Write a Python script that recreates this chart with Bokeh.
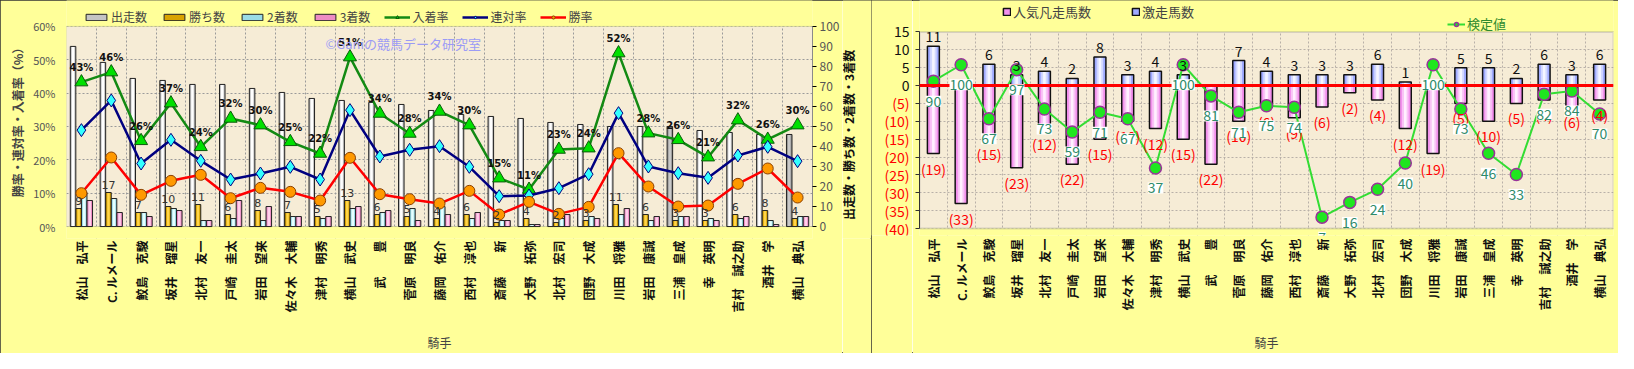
import math
from bokeh.plotting import figure
from bokeh.models import (ColumnDataSource, Range1d, FactorRange, LinearAxis, FixedTicker,
                          SingleIntervalTicker, Legend, LegendItem, LabelSet, Label, Span, BoxAnnotation)
from bokeh.transform import dodge
from bokeh.layouts import row
from bokeh.embed import file_html
from bokeh.resources import INLINE
from bokeh.core.properties import value

# ---------------- data ----------------
jockeys = ["松山　弘平", "C. ルメール", "鮫島　克駿", "坂井　瑠星", "北村　友一", "戸崎　圭太",
           "岩田　望来", "佐々木　大輔", "津村　明秀", "横山　武史", "武　　豊", "菅原　明良",
           "藤岡　佑介", "西村　淳也", "斎藤　　新", "大野　拓弥", "北村　宏司", "団野　大成",
           "川田　将雅", "岩田　康誠", "三浦　皇成", "幸　英明", "吉村　誠之助", "酒井　学", "横山　典弘"]
starts = [90, 82, 74, 73, 71, 71, 69, 67, 64, 63, 62, 61, 58, 56, 55, 54, 52, 51, 50, 50, 50, 48, 47, 46, 46]
wins = [9, 17, 7, 10, 11, 6, 8, 7, 5, 13, 6, 5, 4, 6, 2, 4, 2, 3, 11, 6, 3, 3, 6, 8, 4]
seconds = [17, 14, 7, 9, 3, 4, 3, 5, 4, 9, 7, 9, 10, 4, 3, 1, 4, 5, 6, 3, 5, 4, 4, 3, 5]
thirds = [13, 7, 5, 8, 3, 13, 10, 5, 5, 10, 8, 3, 6, 7, 3, 1, 6, 4, 9, 5, 5, 3, 5, 1, 5]
win_rate = [10.0, 20.7, 9.5, 13.7, 15.5, 8.5, 11.6, 10.4, 7.8, 20.6, 9.7, 8.2, 6.9, 10.7, 3.6,
            7.4, 3.8, 5.9, 22.0, 12.0, 6.0, 6.3, 12.8, 17.4, 8.7]
ren_rate = [28.9, 37.8, 18.9, 26.0, 19.7, 14.1, 15.9, 17.9, 14.1, 34.9, 21.0, 23.0, 24.1, 17.9,
            9.1, 9.3, 11.5, 15.7, 34.0, 18.0, 16.0, 14.6, 21.3, 23.9, 19.6]
place_rate = [43.3, 46.3, 25.7, 37.0, 23.9, 32.4, 30.4, 25.4, 21.9, 50.8, 33.9, 27.9, 34.5, 30.4,
              14.5, 11.1, 23.1, 23.5, 52.0, 28.0, 26.0, 20.8, 31.9, 26.1, 30.4]
place_labels = ["43%", "46%", "26%", "37%", "24%", "32%", "30%", "25%", "22%", "51%", "34%", "28%",
                "34%", "30%", "15%", "11%", "23%", "24%", "52%", "28%", "26%", "21%", "32%", "26%", "30%"]

gekisou = [11, 0, 6, 3, 4, 2, 8, 3, 4, 3, 0, 7, 4, 3, 3, 3, 6, 1, 0, 5, 5, 2, 6, 3, 6]
bonsou = [19, 33, 15, 23, 12, 22, 15, 10, 12, 15, 22, 10, 6, 9, 6, 2, 4, 12, 19, 5, 10, 5, 4, 6, 4]
kentei = [90, 100, 67, 97, 73, 59, 71, 67, 37, 100, 81, 71, 75, 74, 7, 16, 24, 40, 100, 73, 46, 33, 82, 84, 70]

right_ticks = [15, 10, 5, 0, -5, -10, -15, -20, -25, -30, -35, -40]

# ---------------- style / layout ----------------
FONT = "Noto Sans CJK JP"
PANEL = "#FFFF99"
PLOT_BG = "#F6ECD6"
highlight = {"三浦　皇成", "横山　典弘"}
H = 353
BOT = 114                      # common bottom border of every plot in the row
FH = H - BOT                   # frame height (frame reaches canvas top)

# left chart: plot area from 26px to 227px below the top
L_TOP, L_BOT = 26, 227
u1 = 60 / (L_BOT - L_TOP)
y1_lo, y1_hi = -(FH - L_BOT) * u1, 60 + L_TOP * u1
uc = 100 / (L_BOT - L_TOP)
c_lo, c_hi = -(FH - L_BOT) * uc, 100 + L_TOP * uc

# right chart: plot area from 32px to 232px below the top
R_TOP, R_BOT = 32, 232
u2 = 55 / (R_BOT - R_TOP)
y2_lo, y2_hi = -40 - (FH - R_BOT) * u2, 15 + R_TOP * u2
k_lo, k_hi = (y2_lo + 40) * 120 / 55, (y2_hi + 40) * 120 / 55

# ================= left chart =================
src = ColumnDataSource(dict(
    jockey=jockeys, starts=starts, wins=wins, seconds=seconds, thirds=thirds,
    win_rate=win_rate, ren_rate=ren_rate, place_rate=place_rate, place_lbl=place_labels,
    wins_lbl=[str(w) for w in wins],
    st_outer=["#9A9A9A" if j in highlight else "#C4C4C4" for j in jockeys],
    st_inner=["#C8C8C8" if j in highlight else "#FFFFFF" for j in jockeys],
))

p1 = figure(width=842, height=H, x_range=FactorRange(*jockeys), y_range=Range1d(y1_lo, y1_hi),
            output_backend="svg", toolbar_location=None,
            min_border_left=66, min_border_right=30, min_border_top=0, min_border_bottom=BOT)
p1.extra_y_ranges = {"cnt": Range1d(c_lo, c_hi)}
p1.background_fill_color = PANEL
p1.border_fill_color = PANEL
p1.outline_line_color = None

p1.add_layout(BoxAnnotation(bottom=0, top=60, fill_color=PLOT_BG, fill_alpha=1, line_color=None, level="image"))

bw = 0.185
offs = [-0.28, -0.093, 0.093, 0.28]
bar_specs = [("starts", "st_outer", "st_inner"), ("wins", "#D9A300", "#FFD54A"),
             ("seconds", "#9ADCE6", "#E6FFFF"), ("thirds", "#EE8CC4", "#FFD0EA")]
bar_items = []
names = ["出走数", "勝ち数", "2着数", "3着数"]
for (col, outer, inner), off, nm in zip(bar_specs, offs, names):
    xx = dodge("jockey", off, range=p1.x_range)
    r_o = p1.vbar(x=xx, top=col, width=bw, bottom=0, source=src, y_range_name="cnt",
                  fill_color=outer, line_color=None)
    p1.vbar(x=xx, top=col, width=bw * 0.45, bottom=0, source=src, y_range_name="cnt",
            fill_color=inner, line_color=None)
    r_l = p1.vbar(x=xx, top=col, width=bw, bottom=0, source=src, y_range_name="cnt",
                  fill_color=None, line_color="#222222", line_width=1)
    bar_items.append(LegendItem(label=nm, renderers=[r_o, r_l]))

l_pl = p1.line("jockey", "place_rate", source=src, line_color="#138A13", line_width=2.5)
m_pl = p1.scatter("jockey", "place_rate", source=src, marker="triangle", size=13,
                  fill_color="#00E000", line_color="#0B5A0B", line_width=1)
l_rr = p1.line("jockey", "ren_rate", source=src, line_color="#000080", line_width=2.5)
m_rr = p1.scatter("jockey", "ren_rate", source=src, marker="diamond", size=13,
                  fill_color="#33FFFF", line_color="#000080", line_width=1)
l_wr = p1.line("jockey", "win_rate", source=src, line_color="#FF0000", line_width=2.5)
m_wr = p1.scatter("jockey", "win_rate", source=src, marker="circle", size=11,
                  fill_color="#FF9900", line_color="#8B4000", line_width=1)

p1.add_layout(LabelSet(x="jockey", y="place_rate", text="place_lbl", source=src, y_offset=9,
                       text_align="center", text_baseline="bottom", text_font=value("DejaVu Sans"),
                       text_font_size="10px", text_font_style="bold", text_color="#111111"))
p1.add_layout(LabelSet(x=dodge("jockey", -0.093, range=p1.x_range), y="wins", y_range_name="cnt",
                       text="wins_lbl", source=src, y_offset=4, text_align="center",
                       text_baseline="bottom", text_font=value("DejaVu Sans"),
                       text_font_size="11px", text_color="#333333"))
p1.add_layout(Label(x=8.68, y=54.9, text="©Ganiの競馬データ研究室", text_font=FONT,
                    text_font_size="13px", text_color="#9B9BF5", text_baseline="middle"))

# hide the grid outside the plot area, then redraw the plot-area border
p1.add_layout(BoxAnnotation(bottom=60, fill_color=PANEL, fill_alpha=1, line_color=None, level="underlay"))
p1.add_layout(BoxAnnotation(top=0, fill_color=PANEL, fill_alpha=1, line_color=None, level="underlay"))
p1.add_layout(BoxAnnotation(bottom=0, top=60, fill_alpha=0, line_color="#8A8A8A", line_width=1, level="underlay"))

legend1 = Legend(items=bar_items + [
    LegendItem(label="入着率", renderers=[l_pl, m_pl]),
    LegendItem(label="連対率", renderers=[l_rr, m_rr]),
    LegendItem(label="勝率", renderers=[l_wr, m_wr])],
    orientation="horizontal", location=(17, FH - L_TOP), glyph_width=26, glyph_height=8,
    label_text_font=FONT, label_text_font_size="12px", label_standoff=2, spacing=14,
    padding=1, margin=0, background_fill_alpha=0, border_line_color=None, label_height=14)
p1.add_layout(legend1)

ax = p1.xaxis[0]
ax.major_label_orientation = 1.5708
ax.major_label_text_font = FONT
ax.major_label_text_font_size = "12px"
ax.major_label_text_font_style = "bold"
ax.major_label_text_color = "#111111"
ax.major_tick_line_color = None
ax.major_tick_out = 0
ax.major_tick_in = 0
ax.major_label_standoff = 2
ax.axis_line_color = None
ax.axis_label = "騎手"
ax.axis_label_text_font = FONT
ax.axis_label_text_font_style = "normal"
ax.axis_label_text_font_size = "12px"
ax.axis_label_text_color = "#444444"
ax.axis_label_standoff = 18

ay = p1.yaxis[0]
ay.ticker = SingleIntervalTicker(interval=10)
ay.bounds = (0, 60)
ay.major_label_overrides = {v: f"{v}%" for v in range(0, 70, 10)}
ay.major_label_text_font = FONT
ay.major_label_text_font_size = "11px"
ay.major_label_text_color = "#555555"
ay.axis_label = "勝率・連対率・入着率（%）"
ay.axis_label_text_font = FONT
ay.axis_label_text_font_size = "12px"
ay.axis_label_text_font_style = "bold"
ay.axis_label_standoff = 4
ay.minor_tick_line_color = None
ay.major_tick_line_color = None
ay.axis_line_color = None

ary = LinearAxis(y_range_name="cnt", ticker=SingleIntervalTicker(interval=10), bounds=(0, 100))
ary.major_label_text_font = FONT
ary.major_label_text_font_size = "12px"
ary.major_label_text_color = "#555555"
ary.major_label_standoff = 3
ary.minor_tick_line_color = None
ary.major_tick_in = 0
ary.major_tick_out = 4
ary.axis_line_color = "#8A8A8A"
p1.add_layout(ary, "right")

p1.xgrid.ticker = FixedTicker(ticks=list(range(0, 26)))
p1.xgrid.grid_line_color = "#9A9A9A"
p1.xgrid.grid_line_dash = "2 2"
p1.ygrid.ticker = SingleIntervalTicker(interval=10)
p1.ygrid.grid_line_color = "#9A9A9A"
p1.ygrid.grid_line_dash = "2 2"

# strip holding the right-hand axis title (reads bottom to top)
p1b = figure(width=29, height=H, x_range=Range1d(0, 1), y_range=Range1d(0, FH),
             output_backend="svg", toolbar_location=None, x_axis_location=None, y_axis_location=None,
             min_border_left=0, min_border_right=0, min_border_top=0, min_border_bottom=BOT)
p1b.grid.visible = False
p1b.background_fill_color = PANEL
p1b.border_fill_color = PANEL
p1b.outline_line_color = None
p1b.add_layout(Label(x=0.22, y=FH - 135, text="出走数・勝ち数・2着数・3着数", angle=math.pi / 2,
                     text_align="center", text_baseline="middle", text_font=FONT,
                     text_font_size="12px", text_font_style="bold", text_color="#111111"))

# ================= right chart =================
lbl_idx = [i for i, v in enumerate(gekisou) if v > 0]
src2 = ColumnDataSource(dict(
    jockey=jockeys, gek=gekisou, neg=[-v for v in bonsou], kentei=kentei,
    bon_lbl=[f"({v})" for v in bonsou],
    ken_lbl=[str(v) for v in kentei],
))
src2_lbl = ColumnDataSource(dict(
    jockey=[jockeys[i] for i in lbl_idx], gek=[gekisou[i] for i in lbl_idx],
    gek_lbl=[str(gekisou[i]) for i in lbl_idx],
))
yr2 = Range1d(y2_lo, y2_hi)
p2 = figure(width=706, height=H, x_range=FactorRange(*jockeys), y_range=yr2,
            output_backend="svg", toolbar_location=None,
            min_border_left=7, min_border_right=5, min_border_top=0, min_border_bottom=BOT)
p2.extra_y_ranges = {"kt": Range1d(k_lo, k_hi)}
p2.background_fill_color = PANEL
p2.border_fill_color = PANEL
p2.outline_line_color = None
p2.add_layout(BoxAnnotation(bottom=-40, top=15, fill_color=PLOT_BG, fill_alpha=1, line_color=None, level="image"))

w2 = 0.43
b_o = p2.vbar(x="jockey", top="gek", bottom=0, width=w2, source=src2, fill_color="#9FAAFF", line_color=None)
p2.vbar(x="jockey", top="gek", bottom=0, width=w2 * 0.55, source=src2, fill_color="#D2D8FF", line_color=None)
p2.vbar(x="jockey", top="gek", bottom=0, width=w2 * 0.22, source=src2, fill_color="#F4F5FF", line_color=None)
b_l = p2.vbar(x="jockey", top="gek", bottom=0, width=w2, source=src2, fill_color=None,
              line_color="#111111", line_width=1.5)
n_o = p2.vbar(x="jockey", top=0, bottom="neg", width=w2, source=src2, fill_color="#F290EC", line_color=None)
p2.vbar(x="jockey", top=0, bottom="neg", width=w2 * 0.55, source=src2, fill_color="#F9C4F6", line_color=None)
p2.vbar(x="jockey", top=0, bottom="neg", width=w2 * 0.22, source=src2, fill_color="#FFF0FE", line_color=None)
n_l = p2.vbar(x="jockey", top=0, bottom="neg", width=w2, source=src2, fill_color=None,
              line_color="#111111", line_width=1.5)

p2.add_layout(Span(location=0, dimension="width", line_color="#FF0000", line_width=3))

p2.add_layout(LabelSet(x="jockey", y="gek", text="gek_lbl", source=src2_lbl, y_offset=4,
                       text_align="center", text_baseline="bottom", text_font=value(FONT),
                       text_font_size="14px", text_color="#111111"))
p2.add_layout(LabelSet(x="jockey", y="neg", text="bon_lbl", source=src2, y_offset=-5,
                       text_align="center", text_baseline="top", text_font=value(FONT),
                       text_font_size="14px", text_color="#FF0000"))

k_l = p2.line("jockey", "kentei", source=src2, y_range_name="kt", line_color="#33DD33", line_width=2)
k_m = p2.scatter("jockey", "kentei", source=src2, y_range_name="kt", marker="circle", size=12,
                 fill_color="#1FE61F", line_color="#993399", line_width=1.5)
p2.add_layout(LabelSet(x="jockey", y="kentei", y_range_name="kt", text="ken_lbl", source=src2,
                       y_offset=-20, text_align="center", text_baseline="middle",
                       text_font=value(FONT), text_font_size="14px", text_color="#2E8B6A",
                       background_fill_color="#FFFFFF", background_fill_alpha=1.0))

p2.add_layout(BoxAnnotation(bottom=15, fill_color=PANEL, fill_alpha=1, line_color=None, level="underlay"))
p2.add_layout(BoxAnnotation(top=-40, fill_color=PANEL, fill_alpha=1, line_color=None, level="underlay"))
p2.add_layout(BoxAnnotation(bottom=-40, top=15, fill_alpha=0, line_color="#8A8A8A", line_width=2, level="underlay"))

legend2 = Legend(items=[LegendItem(label="人気凡走馬数", renderers=[n_o, n_l]),
                        LegendItem(label="激走馬数", renderers=[b_o, b_l])],
                 orientation="horizontal", location=(83, FH - 25), glyph_width=9, glyph_height=9,
                 label_text_font=FONT, label_text_font_size="13px", label_standoff=2, spacing=40,
                 padding=1, margin=0, background_fill_alpha=0, border_line_color=None)
p2.add_layout(legend2)
legend3 = Legend(items=[LegendItem(label="検定値", renderers=[k_l, k_m])],
                 location=(528, FH - 37), glyph_width=18, glyph_height=10,
                 label_text_font=FONT, label_text_font_size="13px", label_text_color="#2E8B2E",
                 label_standoff=2, padding=0, margin=0, background_fill_alpha=0, border_line_color=None)
p2.add_layout(legend3)

bx = p2.xaxis[0]
bx.major_label_orientation = 1.5708
bx.major_label_text_font = FONT
bx.major_label_text_font_size = "12px"
bx.major_label_text_font_style = "bold"
bx.major_label_text_color = "#111111"
bx.major_tick_line_color = None
bx.major_tick_out = 0
bx.major_tick_in = 0
bx.major_label_standoff = 3
bx.axis_line_color = None
bx.axis_label = "騎手"
bx.axis_label_text_font = FONT
bx.axis_label_text_font_style = "normal"
bx.axis_label_text_font_size = "12px"
bx.axis_label_text_color = "#444444"
bx.axis_label_standoff = 20

by = p2.yaxis[0]
by.ticker = FixedTicker(ticks=right_ticks)
by.bounds = (-40, 15)
by.major_label_overrides = {t: "" for t in right_ticks}
by.major_label_standoff = 0
by.minor_tick_line_color = None
by.major_tick_in = 0
by.major_tick_out = 4
by.major_tick_line_color = "#333333"
by.axis_line_color = "#333333"

p2.xgrid.ticker = FixedTicker(ticks=list(range(0, 26)))
p2.xgrid.grid_line_color = "#B8B0A8"
p2.xgrid.grid_line_dash = "2 2"
p2.ygrid.ticker = FixedTicker(ticks=right_ticks)
p2.ygrid.grid_line_color = "#B8B0A8"
p2.ygrid.grid_line_dash = "2 2"

# narrow strip carrying the coloured y tick labels of the right chart
p2a = figure(width=41, height=H, x_range=Range1d(0, 1), y_range=yr2,
             output_backend="svg", toolbar_location=None, x_axis_location=None, y_axis_location=None,
             min_border_left=0, min_border_right=0, min_border_top=0, min_border_bottom=BOT)
p2a.grid.visible = False
p2a.background_fill_color = PANEL
p2a.border_fill_color = PANEL
p2a.outline_line_color = None
tick_src = ColumnDataSource(dict(
    y=right_ticks,
    x=[1.0] * len(right_ticks),
    t=[str(v) if v >= 0 else f"({-v})" for v in right_ticks],
    c=["#111111" if v >= 0 else "#FF0000" for v in right_ticks],
))
p2a.add_layout(LabelSet(x="x", y="y", text="t", text_color="c", source=tick_src, text_align="right",
                        x_offset=-3, text_baseline="middle", text_font=value(FONT), text_font_size="14px"))

left_panel = row(p1, p1b, spacing=0)
left_panel.styles = {"outline": "1px solid #333", "outline-offset": "-1px"}
right_panel = row(p2a, p2, spacing=0)
right_panel.styles = {"outline": "1px solid #333", "outline-offset": "-1px"}
layout = row(left_panel, right_panel, spacing=0)
open("out.html", "w").write(file_html(layout, INLINE))
